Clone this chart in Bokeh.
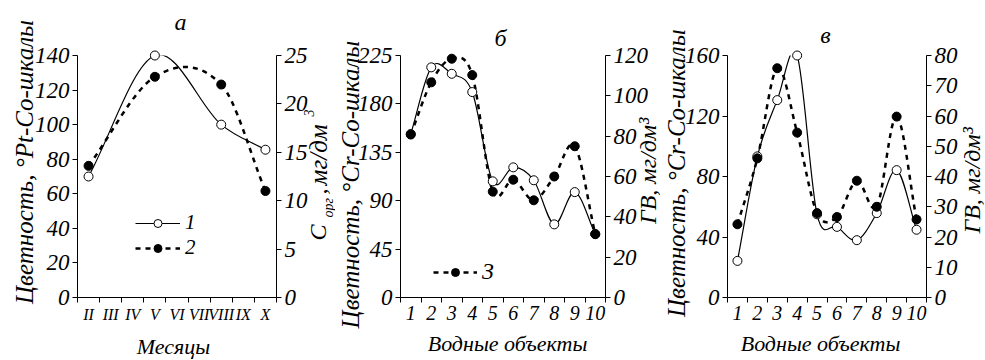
import numpy as np
from bokeh.plotting import figure
from bokeh.models import Range1d, LinearAxis, FixedTicker, Legend, LegendItem, ColumnDataSource
from bokeh.layouts import row
from bokeh.embed import file_html
from bokeh.resources import INLINE
from bokeh.core.properties import value

# ---------------- data ----------------
months = ["II", "III", "IV", "V", "VI", "VII", "VIII", "IX", "X"]
a_months = ["II", "V", "VIII", "X"]
a_color = [70, 140, 100, 85.5]          # Цветность, °Pt-Co
a_corg = [13.6, 22.8, 22.0, 11.0]       # C орг, мг/дм3

objects = [1, 2, 3, 4, 5, 6, 7, 8, 9, 10]
b_color = [152, 214, 208, 191, 108, 121, 109, 68, 98, 59]
b_gv = [80.8, 106.7, 118.4, 110.3, 52.5, 58.4, 48.2, 60, 75, 31.4]
c_color = [24.2, 93.3, 130.5, 160, 55, 46.7, 37.9, 55.8, 84.2, 44.8]
c_gv = [24.2, 46, 75.8, 54.5, 27.9, 26.6, 38.6, 30, 59.8, 25.8]

FONT = "Liberation Serif"
H = 360
BOTTOM = 63
FRAMES = {}
MID = 0.3375   # baseline -> middle distance, in em


def bez(x, y):
    x = np.asarray(x, float)
    y = np.asarray(y, float)
    n = len(x)
    m = np.zeros(n)
    for i in range(n):
        if i == 0:
            m[i] = (y[1] - y[0]) / (x[1] - x[0])
        elif i == n - 1:
            m[i] = (y[-1] - y[-2]) / (x[-1] - x[-2])
        else:
            m[i] = (y[i + 1] - y[i - 1]) / (x[i + 1] - x[i - 1])
    dx = x[1:] - x[:-1]
    return ColumnDataSource(dict(
        x0=x[:-1], y0=y[:-1], x1=x[1:], y1=y[1:],
        cx0=x[:-1] + dx / 3, cy0=y[:-1] + m[:-1] * dx / 3,
        cx1=x[1:] - dx / 3, cy1=y[1:] - m[1:] * dx / 3))


def make_fig(width, left, right, top, xr, yr, y2r, yticks, y2ticks, xticks, xminor, xlabels, xfs):
    p = figure(width=width, height=H, x_range=xr, y_range=yr,
               output_backend="svg", toolbar_location=None,
               min_border_left=left, min_border_right=right,
               min_border_top=top, min_border_bottom=BOTTOM)
    p.outline_line_color = None
    p.xgrid.grid_line_color = None
    p.ygrid.grid_line_color = None
    p.background_fill_color = "white"
    p.border_fill_color = "white"
    p.extra_y_ranges = {"r": y2r}
    ax2 = LinearAxis(y_range_name="r")
    p.add_layout(ax2, "right")
    for ax in [p.yaxis[0], ax2]:
        ax.major_tick_out = 5
        ax.major_tick_in = 0
        ax.major_label_standoff = 3
    p.yaxis[0].ticker = FixedTicker(ticks=yticks)
    ax2.ticker = FixedTicker(ticks=y2ticks)
    xa = p.xaxis[0]
    xa.ticker = FixedTicker(ticks=xticks, minor_ticks=xminor)
    xa.major_tick_out = 0
    xa.major_tick_in = 0
    xa.minor_tick_out = 5
    xa.minor_tick_in = 0
    xa.major_label_standoff = 3
    xa.major_label_overrides = xlabels
    for ax in [p.yaxis[0], ax2, xa]:
        ax.axis_line_color = "black"
        ax.major_tick_line_color = "black"
        ax.minor_tick_line_color = "black" if ax is xa else None
        ax.major_label_text_font = FONT
        ax.major_label_text_font_style = "italic"
        ax.major_label_text_color = "black"
        ax.major_label_text_font_size = "23px"
    xa.major_label_text_font_size = xfs
    FRAMES[p.id] = (width - left - right, H - top - BOTTOM)
    return p


def lab(p, rx, ry, text, size=25, vertical=False, align="center"):
    """Text whose baseline sits at a pixel offset (rx, ry) from the frame's bottom-left corner."""
    fw, fh = FRAMES[p.id]
    if vertical:
        rx = rx - MID * size
        angle = np.pi / 2
    else:
        ry = ry + MID * size
        angle = 0.0
    xr, yr = p.x_range, p.y_range
    x = xr.start + rx * (xr.end - xr.start) / fw
    y = yr.start + ry * (yr.end - yr.start) / fh
    p.text(x=[x], y=[y], text=[text], angle=angle, text_font=value(FONT),
           text_font_size=f"{size}px", text_font_style="italic", text_align=align,
           text_baseline="middle", text_color="black", level="overlay")


def series(p, x, y1, y2):
    s1 = bez(x, y1)
    s2 = bez(x, y2)
    b1 = p.bezier(x0="x0", y0="y0", x1="x1", y1="y1", cx0="cx0", cy0="cy0", cx1="cx1", cy1="cy1",
                  source=s1, line_color="black", line_width=1.2)
    b2 = p.bezier(x0="x0", y0="y0", x1="x1", y1="y1", cx0="cx0", cy0="cy0", cx1="cx1", cy1="cy1",
                  source=s2, line_color="black", line_width=2.5, line_dash="5 5", y_range_name="r")
    r1 = p.scatter(x, y1, size=9, marker="circle", fill_color="white", line_color="black",
                   line_width=1, level="overlay")
    r2 = p.scatter(x, y2, size=9, marker="circle", fill_color="black", line_color="black",
                   y_range_name="r", level="overlay")
    return b1, b2, r1, r2


def legend(items, loc, gw, fs="24px"):
    return Legend(items=items, location=loc, glyph_width=gw, glyph_height=20, label_height=20,
                  padding=0, margin=0, label_standoff=5,
                  label_text_font=FONT, label_text_font_style="italic",
                  label_text_font_size=fs, label_text_color="black",
                  border_line_color=None, background_fill_alpha=0)


# ---------------- panel а ----------------
ax_idx = [months.index(m) for m in a_months]
pa = make_fig(335, 77, 59, 55, Range1d(-0.5, 8.5), Range1d(0, 140), Range1d(0, 25),
              [0, 20, 40, 60, 80, 100, 120, 140], [0, 5, 10, 15, 20, 25],
              list(range(9)), [i - 0.5 for i in range(10)],
              {i: m for i, m in enumerate(months)}, "16px")
ba1, ba2, ra1, ra2 = series(pa, ax_idx, a_color, a_corg)
pa.add_layout(legend([LegendItem(label="1", renderers=[ba1, ra1])], (58, 62), 45, "21px"), "center")
pa.add_layout(legend([LegendItem(label="2", renderers=[ba2, ra2])], (58, 37), 45, "21px"), "center")
lab(pa, -45, 135.5, "Цветность, °Pt-Co-шкалы", vertical=True)
lab(pa, 249, 57, "C", size=24, vertical=True, align="left")
lab(pa, 256, 80, "орг", size=14, vertical=True, align="left")
lab(pa, 249, 103, ",", size=24, vertical=True, align="left")
lab(pa, 249, 112, "мг/дм", size=25, vertical=True, align="left")
lab(pa, 236, 181, "3", size=14, vertical=True, align="left")
lab(pa, 96, -56, "Месяцы", size=22)
lab(pa, 103, 267, "а", size=24)

# ---------------- panel б ----------------
pb = make_fig(327, 65, 57, 42, Range1d(0.5, 10.5), Range1d(0, 225), Range1d(0, 120),
              [0, 45, 90, 135, 180, 225], [0, 20, 40, 60, 80, 100, 120],
              objects, [i + 0.5 for i in range(11)], {}, "20px")
bb1, bb2, rb1, rb2 = series(pb, objects, b_color, b_gv)
pb.add_layout(legend([LegendItem(label="3", renderers=[bb2, rb2])], (33, 12), 44), "center")
lab(pb, -42, 119, "Цветность, °Cr-Co-шкалы", vertical=True)
lab(pb, 256, 133.5, "ГВ, мг/дм³", size=24, vertical=True)
lab(pb, 107, -56, "Водные объекты", size=22)
lab(pb, 100, 265, "б", size=24)

# ---------------- panel в ----------------
pc = make_fig(323, 65, 59, 42, Range1d(0.5, 10.5), Range1d(0, 160), Range1d(0, 80),
              [0, 40, 80, 120, 160], [0, 10, 20, 30, 40, 50, 60, 70, 80],
              objects, [i + 0.5 for i in range(11)], {}, "20px")
series(pc, objects, c_color, c_gv)
lab(pc, -43, 131, "Цветность, °Cr-Co-шкалы", vertical=True)
lab(pc, 253, 123.5, "ГВ, мг/дм³", size=24, vertical=True)
lab(pc, 93, -56, "Водные объекты", size=22)
lab(pc, 98, 269, "в", size=24)

layout = row(pa, pb, pc, spacing=0)
open("out.html", "w").write(file_html(layout, INLINE))
